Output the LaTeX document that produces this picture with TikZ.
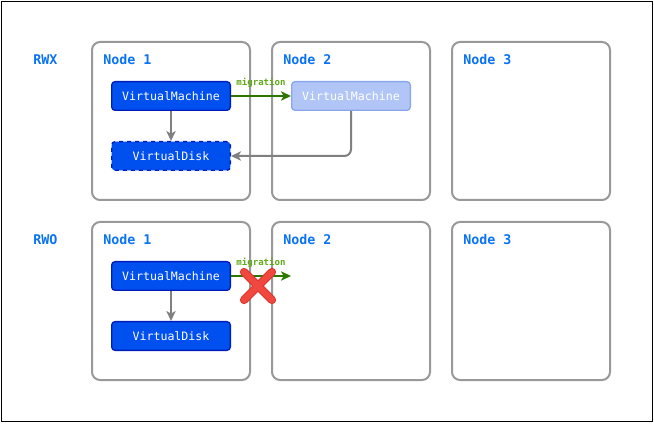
\documentclass[tikz,border=0pt]{standalone}
\usepackage{fontspec}
\setmonofont{DejaVu Sans Mono}
\usetikzlibrary{positioning,arrows.meta}
\definecolor{hostgray}{HTML}{999999}
\definecolor{titleblue}{HTML}{0A72F5}
\definecolor{vmfill}{HTML}{0050EF}
\definecolor{vmline}{HTML}{001DBC}
\definecolor{ghostfill}{HTML}{B1C6F7}
\definecolor{ghostline}{HTML}{8AA5EC}
\definecolor{migline}{HTML}{2D7600}
\definecolor{migtext}{HTML}{60A917}
\definecolor{linkgray}{HTML}{808080}
\definecolor{crossred}{HTML}{F0483E}
\definecolor{crossdark}{HTML}{D8352C}

\begin{document}
\begin{tikzpicture}[x=0.75pt,y=-0.75pt,
    host/.style={draw=hostgray,line width=1.5pt,rounded corners=6pt,
      minimum width=118.5pt,minimum height=118.5pt,anchor=north west},
    title/.style={text=titleblue,font=\fontsize{10}{12}\selectfont\ttfamily\bfseries,
      anchor=west,inner sep=0pt},
    vm/.style={draw=vmline,fill=vmfill,line width=1pt,rounded corners=2.5pt,
      minimum width=89pt,minimum height=21.5pt,inner sep=0pt,anchor=north west,
      text=white,font=\fontsize{8.7}{10}\selectfont\ttfamily},
    ghost/.style={vm,draw=ghostline,fill=ghostfill},
    disk/.style={vm,dashed},
    link/.style={draw=linkgray,line width=1.5pt,-{Stealth[length=7.5pt,width=7pt,inset=2pt]}},
    migrate/.style={draw=migline,line width=1.5pt,-{Stealth[length=7.5pt,width=7pt,inset=2pt]}},
    miglabel/.style={text=migtext,font=\fontsize{6.8}{8}\selectfont\ttfamily\bfseries,inner sep=1pt},
  ]
  \useasboundingbox (0,0) rectangle (654,424);
  \draw[line width=0.75pt] (1.5,1.5) rectangle (652.5,421.5);

  % storage modes and hosts
  \foreach \r/\y/\mode in {1/41/RWX,2/221/RWO} {
    \node[title] (mode\r) at (33,\y+19) {\mode};
    \foreach \c/\x in {1/91,2/271,3/451} {
      \node[host] (h\r\c) at (\x,\y) {};
      \node[title] (t\r\c) at ([shift={(12,19)}]h\r\c.north west) {Node \c};
    }
  }

  % RWX
  \node[vm] (vmA) at ([shift={(20,40)}]h11.north west) {VirtualMachine};
  \node[disk] (diskA) at ([shift={(20,100)}]h11.north west) {VirtualDisk};
  \node[ghost] (vmA2) at ([shift={(20,40)}]h12.north west) {VirtualMachine};
  \draw[link] (vmA) -- (diskA);
  \draw[migrate] (vmA) -- node[miglabel,above=5pt] {migration} (vmA2);
  \draw[link,rounded corners=5pt] (vmA2.south) |- (diskA.east);

  % RWO
  \node[vm] (vmB) at ([shift={(20,40)}]h21.north west) {VirtualMachine};
  \node[vm] (diskB) at ([shift={(20,100)}]h21.north west) {VirtualDisk};
  \coordinate (vmB2) at ([shift={(20,55)}]h22.north west);
  \draw[link] (vmB) -- (diskB);
  \draw[migrate] (vmB) -- node[miglabel,above=5pt] {migration} (vmB2);

  % blocked
  \coordinate (xc) at (258,286);
  \foreach \w/\col in {6.2pt/crossdark,4.6pt/crossred} {
    \draw[\col,line width=\w,line cap=round] ([shift={(-14,-14)}]xc) -- ([shift={(14,14)}]xc);
    \draw[\col,line width=\w,line cap=round] ([shift={(14,-14)}]xc) -- ([shift={(-14,14)}]xc);
  }
\end{tikzpicture}
\end{document}
